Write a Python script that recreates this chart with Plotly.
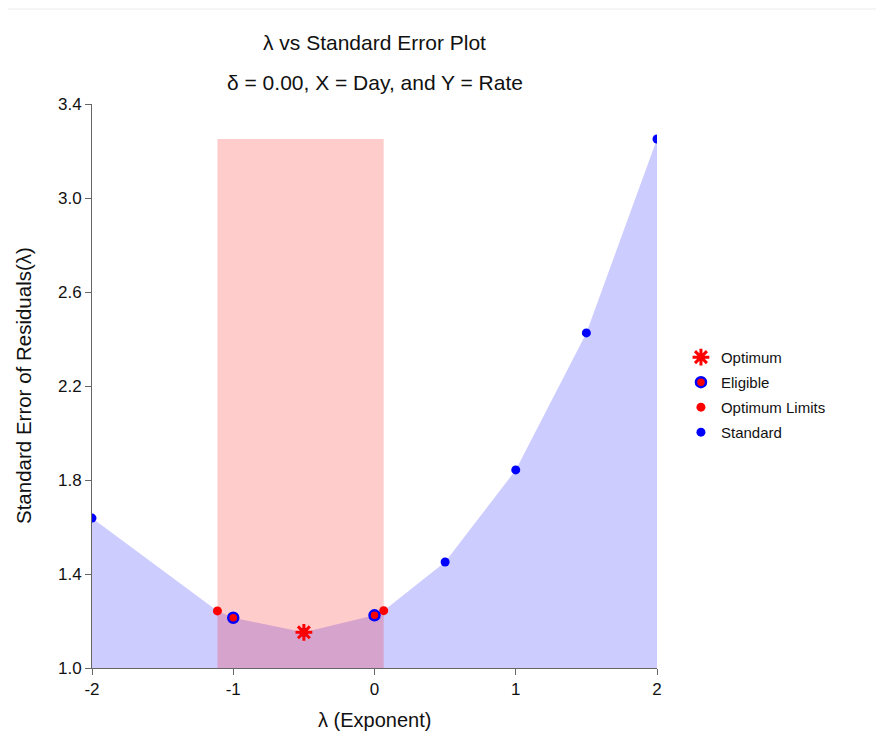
import plotly.graph_objects as go

# Data
lam_std = [-2.0, -1.0, -0.5, 0.0, 0.5, 1.0, 1.5, 2.0]
se_std = [1.638, 1.214, 1.152, 1.224, 1.451, 1.843, 2.426, 3.251]

lam_limits = [-1.112, 0.065]
se_limits = [1.243, 1.244]

lam_elig = [-1.0, 0.0]
se_elig = [1.214, 1.224]

lam_opt = [-0.5]
se_opt = [1.152]

x_ticks = [-2, -1, 0, 1, 2]
y_ticks = [1.0, 1.4, 1.8, 2.2, 2.6, 3.0, 3.4]

# Curve outline (standard points plus the optimum-limit points), sorted by lambda
curve = sorted(zip(lam_std + lam_limits, se_std + se_limits))
lam_curve = [p[0] for p in curve]
se_curve = [p[1] for p in curve]

y_base = 1.0
y_top = max(se_std)

FONT = "Liberation Sans, Arial, sans-serif"
TXT = "#111"

fig = go.Figure()

# Blue filled area under the curve
fig.add_trace(go.Scatter(
    x=lam_curve, y=se_curve, mode="lines", fill="tozeroy",
    fillcolor="rgba(0,0,255,0.2)", line=dict(width=0, color="rgba(0,0,255,0)"),
    showlegend=False, hoverinfo="skip"))

# Pink band between optimum limits
fig.add_trace(go.Scatter(
    x=[lam_limits[0], lam_limits[1], lam_limits[1], lam_limits[0], lam_limits[0]],
    y=[y_base, y_base, y_top, y_top, y_base],
    mode="lines", fill="toself", fillcolor="rgba(255,0,0,0.2)",
    line=dict(width=0, color="rgba(255,0,0,0)"), showlegend=False, hoverinfo="skip"))

fig.add_trace(go.Scatter(
    x=lam_std, y=se_std, mode="markers", name="Standard", legendrank=4,
    legendgroup="d",
    marker=dict(color="#0000ff", size=9, line=dict(width=0))))

fig.add_trace(go.Scatter(
    x=lam_limits, y=se_limits, mode="markers", name="Optimum Limits", legendrank=3,
    legendgroup="c",
    marker=dict(color="#ff0000", size=9, line=dict(width=0))))

fig.add_trace(go.Scatter(
    x=lam_elig, y=se_elig, mode="markers", name="Eligible", legendrank=2,
    legendgroup="b",
    marker=dict(color="#ff0000", size=10, line=dict(width=2.5, color="#0000ff"))))

fig.add_trace(go.Scatter(
    x=lam_opt, y=se_opt, mode="markers", name="Optimum", legendrank=1,
    legendgroup="a",
    marker=dict(symbol="asterisk-open", color="#ff0000", size=14,
                line=dict(width=3, color="#ff0000"))))

# The page adds an 8px body offset, so margins are reduced by 8 on left/top
L, T = 83.5, 96
PW, PH = 565.5, 564
SCR_LEFT, SCR_TOP = L + 8, T + 8  # plot area position on screen
line_y = 1 + (SCR_TOP - 9) / PH

fig.update_layout(
    width=884, height=752,
    margin=dict(l=L, r=884 - L - PW, t=T, b=752 - T - PH),
    paper_bgcolor="white", plot_bgcolor="white",
    font=dict(family=FONT, size=16, color=TXT),
    showlegend=True,
    legend=dict(x=1.0424, y=0.58, xanchor="left", yanchor="top",
                font=dict(family=FONT, size=15, color=TXT),
                traceorder="grouped", tracegroupgap=2.5,
                bgcolor="rgba(0,0,0,0)", itemclick=False),
    xaxis=dict(range=[-2, 2], tickvals=x_ticks, ticktext=[str(v) for v in x_ticks],
               showgrid=False, zeroline=False, showline=True, linecolor="#666", linewidth=1,
               ticks="outside", ticklen=6, tickcolor="#666",
               tickfont=dict(size=17, family=FONT, color=TXT)),
    yaxis=dict(range=[1.0, 3.4], tickvals=y_ticks, ticktext=[f"{v:.1f}" for v in y_ticks],
               showgrid=False, zeroline=False, showline=True, linecolor="#666", linewidth=1,
               ticks="outside", ticklen=6, tickcolor="#666",
               tickfont=dict(size=17, family=FONT, color=TXT)),
    annotations=[
        dict(text="λ vs Standard Error Plot", xref="paper", yref="paper",
             x=0.5, y=1.0, yshift=62, showarrow=False, xanchor="center", yanchor="middle",
             font=dict(size=21, family=FONT, color=TXT)),
        dict(text="δ = 0.00, X = Day, and Y = Rate", xref="paper", yref="paper",
             x=0.5, y=1.0, yshift=22, showarrow=False, xanchor="center", yanchor="middle",
             font=dict(size=21, family=FONT, color=TXT)),
        dict(text="λ (Exponent)", xref="paper", yref="paper",
             x=0.5, y=0.0, yshift=-52, showarrow=False, xanchor="center", yanchor="middle",
             font=dict(size=20, family=FONT, color=TXT)),
        dict(text="Standard Error of Residuals(λ)", xref="paper", yref="paper",
             x=0.0, y=0.5, xshift=-69, showarrow=False, xanchor="center", yanchor="middle",
             textangle=-90, font=dict(size=20.5, family=FONT, color=TXT)),
    ],
    shapes=[dict(type="line", xref="paper", yref="paper",
                 x0=-SCR_LEFT / PW, x1=(884 - SCR_LEFT) / PW,
                 y0=line_y, y1=line_y,
                 line=dict(color="#ececec", width=1))],
)

fig.write_html("out.html")
